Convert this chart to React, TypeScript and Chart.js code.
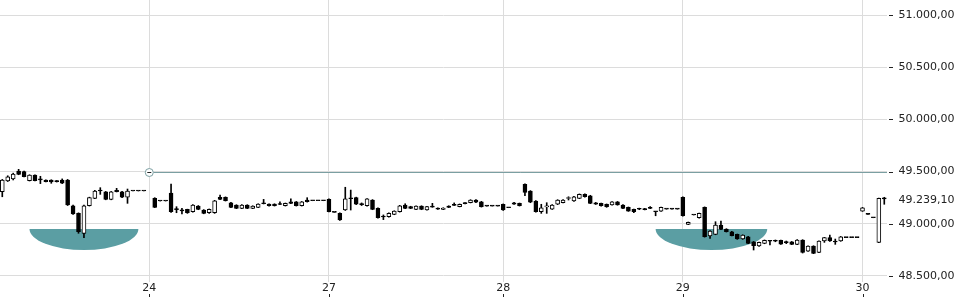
import React, { useEffect, useRef } from 'react';
import { Chart, registerables } from 'chart.js';

Chart.register(...registerables);

// ---- Data (15-minute candles, index based; null = no candle) ----
const OPEN: (number | null)[] = [
  // 23
  49307, 49410, 49429, 49506, 49499, 49413, 49467, 49425, 49419, 49419, 49413, 49419, 49419, 49173, 49100, 48909, 49173, 49244, 49319, 49307, 49234, 49321, 49307, 49254, 49314, 49314, 49314,
  null,
  // 24
  49244, 49218, 49218, 49295, 49140, 49128, 49138, 49116, 49170, 49132, 49106, 49106, 49254, 49254, 49202, 49180, 49148, 49180, 49148, 49158, 49196, 49189, 49189, 49189, 49173, 49211, 49211, 49173, 49228, 49221, 49221, 49221,
  // 27
  49234, 49110, 49100, 49132, 49248, 49250, 49190, 49173, 49228, 49148, 49070, 49068, 49090, 49116, 49180, 49164, 49138, 49170, 49132, 49167, 49151, 49138, 49170, 49180, 49164, 49200, 49202, 49228, 49211, 49170, 49170, 49170,
  // 28
  49187, 49154, 49202, 49196, 49378, 49314, 49218, 49116, 49162, 49141, 49187, 49202, 49242, 49218, 49244, 49282, 49269, 49202, 49196, 49187, 49180, 49211, 49180, 49158, 49138, 49143, 49140, 49150, 49118, 49122, 49140, 49140, 49140,
  // 29
  49254, 48995, 49084, 49058, 49158, 48883, 48899, 48988, 48950, 48924, 48899, 48854, 48876, 48828, 48787, 48812, 48837, 48837, 48842, 48824, 48828, 48803, 48845, 48739, 48787, 48727, 48835, 48867, 48830, 48835, 48867, 48867, 48867,
  // 30
  49122, 49096, 49058, 48822, 49244,
];
const HIGH: (number | null)[] = [
  49425, 49460, 49485, 49522, 49505, 49470, 49470, 49455, 49422, 49422, 49415, 49430, 49425, 49180, 49105, 49180, 49255, 49320, 49346, 49310, 49310, 49340, 49310, 49333, 49314, 49314, 49314,
  null,
  49250, 49218, 49218, 49381, 49164, 49148, 49140, 49185, 49175, 49136, 49142, 49225, 49276, 49258, 49206, 49183, 49183, 49183, 49173, 49192, 49234, 49192, 49192, 49211, 49199, 49240, 49214, 49214, 49250, 49221, 49221, 49221,
  49238, 49110, 49104, 49350, 49323, 49255, 49200, 49242, 49232, 49152, 49085, 49104, 49125, 49177, 49192, 49168, 49173, 49173, 49167, 49196, 49154, 49154, 49173, 49200, 49190, 49203, 49231, 49231, 49215, 49170, 49170, 49170,
  49190, 49154, 49205, 49199, 49382, 49318, 49222, 49187, 49202, 49183, 49231, 49231, 49259, 49262, 49286, 49286, 49273, 49205, 49199, 49190, 49214, 49214, 49183, 49161, 49141, 49150, 49148, 49166, 49118, 49161, 49140, 49140, 49140,
  49258, 49017, 49084, 49103, 49162, 48935, 49020, 49027, 48953, 48927, 48902, 48895, 48879, 48831, 48825, 48845, 48840, 48845, 48845, 48835, 48831, 48848, 48848, 48790, 48790, 48838, 48870, 48892, 48854, 48879, 48867, 48867, 48867,
  49157, 49098, 49058, 49247, 49254,
];
const LOW: (number | null)[] = [
  49259, 49405, 49420, 49470, 49448, 49410, 49410, 49385, 49400, 49388, 49400, 49385, 49175, 49090, 48909, 48867, 49170, 49240, 49282, 49230, 49230, 49305, 49250, 49196, 49314, 49314, 49314,
  null,
  49155, 49218, 49218, 49110, 49106, 49094, 49100, 49112, 49135, 49096, 49100, 49100, 49230, 49218, 49155, 49145, 49145, 49145, 49145, 49155, 49190, 49170, 49170, 49183, 49170, 49193, 49170, 49170, 49208, 49221, 49221, 49221,
  49113, 49110, 49033, 49128, 49132, 49184, 49175, 49170, 49135, 49055, 49040, 49064, 49087, 49112, 49145, 49145, 49135, 49135, 49130, 49158, 49138, 49136, 49155, 49175, 49162, 49190, 49200, 49203, 49160, 49170, 49170, 49170,
  49128, 49154, 49185, 49170, 49269, 49202, 49112, 49100, 49100, 49138, 49184, 49200, 49228, 49215, 49241, 49256, 49193, 49185, 49170, 49158, 49178, 49178, 49145, 49119, 49106, 49135, 49133, 49145, 49077, 49119, 49140, 49140, 49140,
  49074, 48992, 49084, 49055, 48872, 48861, 48895, 48944, 48921, 48883, 48851, 48851, 48809, 48749, 48784, 48809, 48797, 48828, 48803, 48810, 48800, 48800, 48720, 48736, 48714, 48724, 48822, 48832, 48803, 48832, 48867, 48867, 48867,
  49119, 49090, 49058, 48819, 49187,
];
const CLOSE: (number | null)[] = [
  49419, 49451, 49477, 49474, 49451, 49467, 49413, 49420, 49403, 49401, 49403, 49388, 49180, 49094, 48924, 49173, 49250, 49314, 49314, 49234, 49307, 49307, 49254, 49314, 49314, 49314, 49314,
  null,
  49158, 49218, 49218, 49116, 49136, 49124, 49106, 49180, 49138, 49100, 49138, 49221, 49234, 49221, 49158, 49148, 49180, 49148, 49170, 49189, 49192, 49173, 49173, 49185, 49196, 49196, 49173, 49211, 49211, 49221, 49221, 49221,
  49116, 49110, 49036, 49238, 49240, 49187, 49184, 49238, 49138, 49058, 49065, 49100, 49122, 49173, 49148, 49148, 49170, 49138, 49164, 49160, 49141, 49151, 49158, 49176, 49187, 49193, 49228, 49206, 49164, 49170, 49170, 49170,
  49132, 49154, 49187, 49173, 49301, 49206, 49116, 49154, 49166, 49180, 49228, 49228, 49246, 49259, 49282, 49259, 49196, 49187, 49173, 49164, 49211, 49180, 49148, 49122, 49116, 49139, 49136, 49147, 49115, 49158, 49140, 49140, 49140,
  49077, 49014, 49084, 49100, 48876, 48931, 48988, 48947, 48924, 48886, 48854, 48892, 48812, 48790, 48822, 48842, 48833, 48833, 48806, 48820, 48803, 48845, 48727, 48787, 48717, 48835, 48867, 48835, 48826, 48876, 48867, 48867, 48867,
  49154, 49090, 49058, 49244, 49239.1,
];

const DAY_INDEX = [27, 60, 92, 125, 158];
const DAY_LABELS = ['24', '27', '28', '29', '30'];
const Y_TICKS = [48500, 49000, 49500, 50000, 50500, 51000];
const LAST_PRICE = 49239.1;
const LEVEL_VALUE = 49500;
const LEVEL_START_INDEX = 27;
// rounded-bottom pattern markers: index range, top value, bottom value
const BOWL_FROM = [5, 120];
const BOWL_TO = [25, 140.5];
const BOWL_TOP = [48950, 48950];
const BOWL_BOTTOM = [48749, 48749];

const TEAL = '#5b9ea3';
const LINE_TEAL = '#7b9fa2';
const TEXT = '#222';
const GRID = '#dcdcdc';

function fmt(v: number): string {
  const s = v.toFixed(2);
  const [i, d] = s.split('.');
  return i.replace(/\B(?=(\d{3})+(?!\d))/g, '.') + ',' + d;
}

const overlayPlugin = {
  id: 'overlay',
  beforeDatasetsDraw(chart: any) {
    const { ctx, scales } = chart;
    const x = scales.x, y = scales.y;
    ctx.save();
    ctx.fillStyle = TEAL;
    for (let k = 0; k < BOWL_FROM.length; k++) {
      const x1 = x.getPixelForValue(BOWL_FROM[k]);
      const x2 = x.getPixelForValue(BOWL_TO[k]);
      const yt = y.getPixelForValue(BOWL_TOP[k]);
      const yb = y.getPixelForValue(BOWL_BOTTOM[k]);
      ctx.beginPath();
      ctx.ellipse((x1 + x2) / 2, yt, (x2 - x1) / 2, yb - yt, 0, 0, Math.PI);
      ctx.closePath();
      ctx.fill();
    }
    ctx.restore();
  },
  afterDatasetsDraw(chart: any) {
    const { ctx, scales, chartArea } = chart;
    const x = scales.x, y = scales.y;
    const lx = x.getPixelForValue(LEVEL_START_INDEX);
    const ly = Math.round(y.getPixelForValue(LEVEL_VALUE)) + 0.5;
    ctx.save();
    ctx.lineWidth = 1;
    ctx.strokeStyle = LINE_TEAL;
    ctx.beginPath();
    ctx.moveTo(lx + 4, ly);
    ctx.lineTo(chartArea.right, ly);
    ctx.stroke();
    ctx.beginPath();
    ctx.arc(lx, ly, 4, 0, Math.PI * 2);
    ctx.fillStyle = '#fff';
    ctx.fill();
    ctx.stroke();
    ctx.strokeStyle = '#222';
    ctx.beginPath();
    ctx.moveTo(lx - 2, ly);
    ctx.lineTo(lx + 2, ly);
    ctx.stroke();
    ctx.restore();
  },
  afterDraw(chart: any) {
    const { ctx, scales, chartArea } = chart;
    const x = scales.x, y = scales.y;
    ctx.save();
    ctx.fillStyle = TEXT;
    // y tick dashes (detached from grid)
    for (const v of Y_TICKS) {
      const py = Math.round(y.getPixelForValue(v));
      ctx.fillRect(Math.round(chartArea.right) + 2, py, 4, 1);
    }
    // x tick marks below labels
    for (const v of DAY_INDEX) {
      const px = Math.round(x.getPixelForValue(v));
      ctx.fillRect(px, 294, 1, 3);
    }
    // last price label
    ctx.font = "11px 'DejaVu Sans', sans-serif";
    ctx.textBaseline = 'middle';
    ctx.textAlign = 'left';
    ctx.fillText(fmt(LAST_PRICE), chartArea.right + 11.5, y.getPixelForValue(LAST_PRICE) + 1);
    ctx.restore();
  },
};

export default function App() {
  const canvasRef = useRef<HTMLCanvasElement | null>(null);

  useEffect(() => {
    if (!canvasRef.current) return;
    Chart.defaults.font.family = "'DejaVu Sans', sans-serif";
    const idx = OPEN.map((_, i) => i).filter((i) => OPEN[i] != null);
    const bodyData = idx.map((i) => ({ x: i, y: [OPEN[i] as number, CLOSE[i] as number] }));
    const wickData = idx.map((i) => ({ x: i, y: [LOW[i] as number, HIGH[i] as number] }));
    const bodyFill = idx.map((i) => ((CLOSE[i] as number) > (OPEN[i] as number) ? '#ffffff' : '#000000'));

    const chart = new Chart(canvasRef.current, {
      type: 'bar',
      data: {
        datasets: [
          {
            data: bodyData as any,
            backgroundColor: bodyFill,
            borderColor: '#000',
            borderWidth: 1,
            borderSkipped: false,
            barThickness: 4,
            minBarLength: 1,
            grouped: false,
            order: 0,
          } as any,
          {
            data: wickData as any,
            backgroundColor: '#000',
            borderWidth: 0,
            barThickness: 1,
            grouped: false,
            order: 1,
          } as any,
        ],
      },
      options: {
        responsive: false,
        animation: false,
        events: [],
        layout: { padding: 0, autoPadding: false },
        plugins: { legend: { display: false }, tooltip: { enabled: false } },
        scales: {
          x: {
            type: 'linear',
            min: -0.42,
            max: 162.5,
            offset: false,
            afterBuildTicks: (s: any) => {
              s.ticks = DAY_INDEX.map((v) => ({ value: v }));
            },
            afterFit: (s: any) => {
              s.height = 18;
              s.paddingLeft = 0;
              s.paddingRight = 0;
              s.paddingTop = 0;
              s.paddingBottom = 0;
            },
            ticks: {
              autoSkip: false,
              maxRotation: 0,
              padding: 0,
              color: TEXT,
              font: { size: 11 },
              callback: (_v: any, i: number) => DAY_LABELS[i] ?? '',
            },
            grid: { color: GRID, offset: false, drawTicks: false },
            border: { display: false },
          } as any,
          y: {
            type: 'linear',
            position: 'right',
            min: 48442.5,
            max: 51143.7,
            afterBuildTicks: (s: any) => {
              s.ticks = Y_TICKS.map((v) => ({ value: v }));
            },
            afterFit: (s: any) => {
              s.width = 73;
              s.paddingTop = 0;
              s.paddingBottom = 0;
              s.paddingLeft = 0;
              s.paddingRight = 0;
            },
            ticks: {
              padding: 11.5,
              color: TEXT,
              font: { size: 11 },
              callback: (v: any) => fmt(Number(v)),
            },
            grid: { color: GRID, drawTicks: false },
            border: { display: false },
          } as any,
        },
      },
      plugins: [overlayPlugin],
    });
    return () => chart.destroy();
  }, []);

  return (
    <div style={{ position: 'absolute', left: 0, top: 0, width: 960, height: 300 }}>
      <canvas ref={canvasRef} width={960} height={300} style={{ width: 960, height: 300, display: 'block' }} />
    </div>
  );
}
